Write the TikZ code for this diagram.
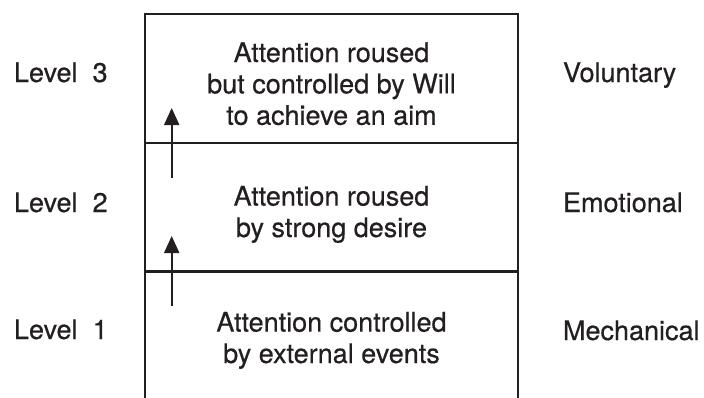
\documentclass[tikz,border=0pt]{standalone}
\usepackage{fontspec}
\setmainfont{TeX Gyre Heros}[FakeBold=0.5]
\usetikzlibrary{arrows.meta}
\definecolor{ink}{HTML}{231F20}
\begin{document}
\begin{tikzpicture}[x=1pt,y=-1pt,
  every node/.style={inner sep=0pt,outer sep=0pt,text=ink},
  txt/.style={font=\fontsize{27}{31.4}\selectfont,align=center,anchor=base},
  side/.style={font=\fontsize{27}{31.4}\selectfont,anchor=base west},
  frame/.style={draw=ink,line width=2.2pt},
  uparrow/.style={draw=ink,line width=2pt,-{Triangle[width=15pt,length=17pt]}}]
\useasboundingbox (0,0) rectangle (704,397);
% frame
\coordinate (bl) at (145,398);
\coordinate (tl) at (145,14);
\coordinate (tr) at (518,14);
\coordinate (br) at (518,398);
\draw[frame] (bl) -- (tl) -- (tr) -- (br);
\coordinate (l1) at (145,143);
\coordinate (r1) at (518,143);
\coordinate (l2) at (145,271.5);
\coordinate (r2) at (518,271.5);
\draw[frame] (l1) -- (r1);
\draw[frame] (l2) -- (r2);
% panel texts (anchor = baseline of last line)
\node[txt] (p3) at (331.5,124.8) {Attention roused\\but controlled by Will\\to achieve an aim};
\node[txt] (p2) at (331.5,237) {Attention roused\\by strong desire};
\node[txt] (p1) at (331.5,363) {Attention controlled\\by external events};
% level labels
\node[side] (lv3) at (14,82) {Level\ \ 3};
\node[side] (lv2) at (14,212) {Level\ \ 2};
\node[side] (lv1) at (14,339) {Level\ \ 1};
% right labels
\node[side] (vol) at (563,82) {Voluntary};
\node[side] (emo) at (563,212) {Emotional};
\node[side] (mec) at (563,340) {Mechanical};
% arrows
\coordinate (a1s) at (171.7,178);
\coordinate (a1e) at (171.7,108);
\coordinate (a2s) at (171.7,306);
\coordinate (a2e) at (171.7,236);
\draw[uparrow] (a1s) -- (a1e);
\draw[uparrow] (a2s) -- (a2e);
\end{tikzpicture}
\end{document}
